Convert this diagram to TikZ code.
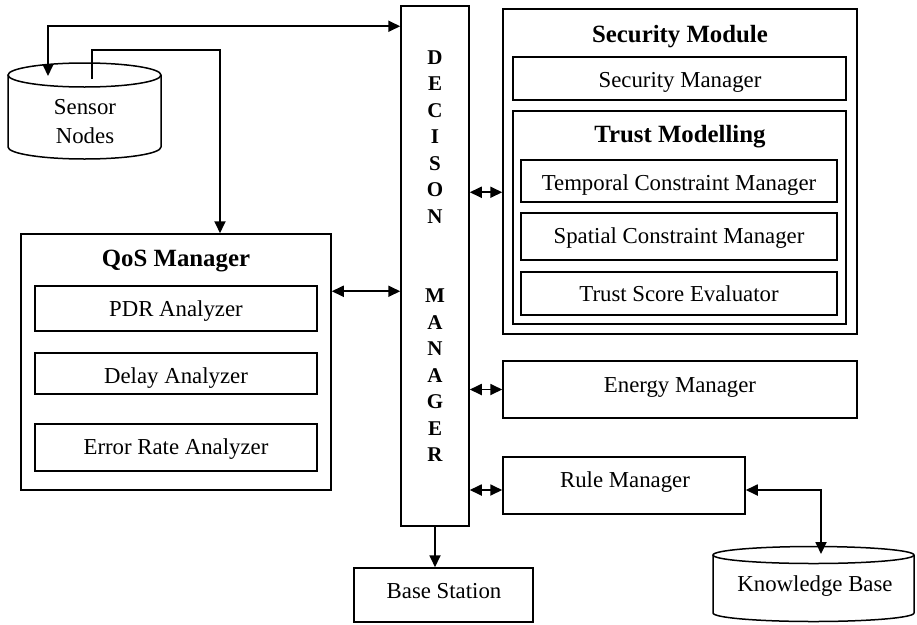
\documentclass[tikz,border=0pt]{standalone}
\usepackage{fontspec}
\setmainfont{Liberation Serif}
\usetikzlibrary{arrows.meta,fit,calc}
\begin{document}
\begin{tikzpicture}[x=1pt,y=-1pt,
  box/.style={draw, line width=1.5pt, inner sep=0pt},
  txt/.style={font=\fontsize{22.8}{29}\selectfont, inner sep=0pt, anchor=base},
  ttl/.style={font=\fontsize{24.8}{30}\selectfont\bfseries, inner sep=0pt, anchor=base},
  dml/.style={font=\fontsize{21}{26}\selectfont\bfseries, inner sep=0pt, anchor=base},
  cyl/.style={draw, line width=1.5pt, fill=white},
  conn/.style={line width=1.8pt, -{Triangle[length=12pt,width=11pt]}},
  biconn/.style={line width=1.8pt, {Triangle[length=12pt,width=11pt]}-{Triangle[length=12pt,width=11pt]}},
]
\fill[white] (0,0) rectangle (917,624);
\useasboundingbox (0,0) rectangle (917,624);

% Decision manager
\node[box, fit={(401,6) (469,526)}] (dm) {};
\foreach \i/\l in {0/D,1/E,2/C,3/I,4/S,5/O,6/N,9/M,10/A,11/N,12/A,13/G,14/E,15/R}
  \node[dml] (dml\i) at (435,{64+26.5*\i}) {\l};

% Security module
\node[box, fit={(503,9) (857,334)}] (sm) {};
\node[ttl] (smT) at (680,42) {Security Module};
\node[box, fit={(513,57) (846,100)}] (smgr) {};
\node[txt] (smgrT) at (680,87) {Security Manager};
\node[box, fit={(513,111) (846,324)}] (tm) {};
\node[ttl] (tmT) at (680,142) {Trust Modelling};
\node[box, fit={(521,160) (837,202)}] (tcm) {};
\node[txt] (tcmT) at (679,190) {Temporal Constraint Manager};
\node[box, fit={(521,213) (837,260)}] (scm) {};
\node[txt] (scmT) at (679,243) {Spatial Constraint Manager};
\node[box, fit={(521,272) (837,315)}] (tse) {};
\node[txt] (tseT) at (679,301) {Trust Score Evaluator};

% QoS manager
\node[box, fit={(21,234) (331,490)}] (qos) {};
\node[ttl] (qosT) at (176,266) {QoS Manager};
\node[box, fit={(35,286) (317,331)}] (pdr) {};
\node[txt] (pdrT) at (176,316) {PDR Analyzer};
\node[box, fit={(35,353) (317,394)}] (dly) {};
\node[txt] (dlyT) at (176,383) {Delay Analyzer};
\node[box, fit={(35,424) (317,471)}] (err) {};
\node[txt] (errT) at (176,454) {Error Rate Analyzer};

% Energy, Rule, Base station
\node[box, fit={(503,361) (857,418)}] (en) {};
\node[txt] (enT) at (680,392) {Energy Manager};
\node[box, fit={(503,457) (745,514)}] (rm) {};
\node[txt] (rmT) at (625,487) {Rule Manager};
\node[box, fit={(354,568) (533,622)}] (bs) {};
\node[txt] (bsT) at (444,598) {Base Station};

% Sensor nodes cylinder
\draw[cyl] (8,75) -- (8,147) arc[start angle=180,end angle=360,x radius=76.5pt,y radius=12pt] -- (161,75);
\draw[cyl] (84.5,75) ellipse[x radius=76.5pt,y radius=12pt];
\node[txt, align=center] (sn) at (85,143) {Sensor\\Nodes};

% Knowledge base cylinder
\draw[cyl] (713,555) -- (713,613) arc[start angle=180,end angle=360,x radius=100.5pt,y radius=8.5pt] -- (914,555);
\draw[cyl] (813.5,555) ellipse[x radius=100.5pt,y radius=8.5pt];
\node[txt] (kb) at (815,591) {Knowledge Base};

% connectors
\coordinate (snA) at (48,76);
\coordinate (snB) at (92,79);
\coordinate (kbA) at (821,554);
\draw[biconn] (snA) |- ([yshift=-21pt]dm.north west);
\draw[conn] (snB) -- ++(0,-29) -| ([xshift=44pt]qos.north);
\coordinate (q1) at ($(qos.north east)+(0,58)$);
\draw[biconn] (q1) -- (q1 -| dm.west);
\coordinate (s1) at ($(sm.north west)+(0,184)$);
\draw[biconn] (s1 -| dm.east) -- (s1);
\draw[biconn] (en.west -| dm.east) -- (en.west);
\coordinate (r1) at ($(rm.west)+(0,4.5)$);
\coordinate (r2) at ($(rm.east)+(0,4.5)$);
\draw[biconn] (r1 -| dm.east) -- (r1);
\draw[biconn] (r2) -| (kbA);
\draw[conn] (dm.south) -- (dm.south |- bs.north);
\end{tikzpicture}
\end{document}
